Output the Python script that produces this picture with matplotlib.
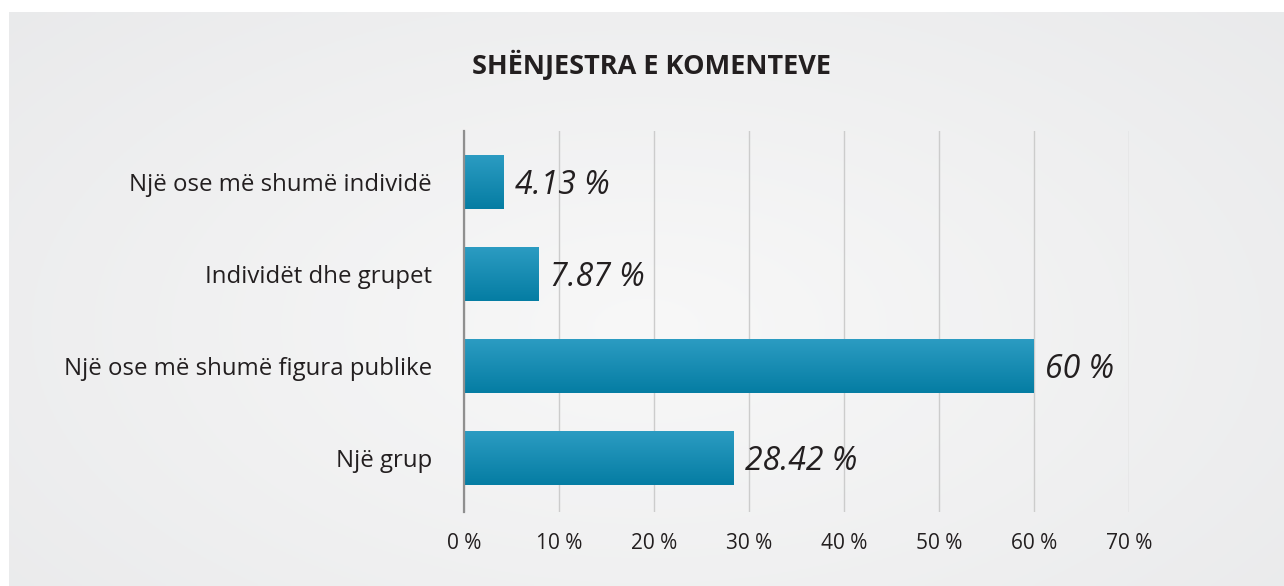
import numpy as np
import matplotlib
matplotlib.use('Agg')
from matplotlib import pyplot as plt

# data
categories = ['Një ose më shumë individë', 'Individët dhe grupet',
              'Një ose më shumë figura publike', 'Një grup']
values = [4.13, 7.87, 60, 28.42]
value_labels = ['4.13 %', '7.87 %', '60 %', '28.42 %']
x_ticks = [0, 10, 20, 30, 40, 50, 60, 70]
x_tick_labels = ['0 %', '10 %', '20 %', '30 %', '40 %', '50 %', '60 %', '70 %']
title = 'SHËNJESTRA E KOMENTEVE'

plt.rcParams['font.family'] = ['Open Sans', 'DejaVu Sans']
text_color = '#231f20'

W, H = 1284, 586
fig = plt.figure(figsize=(W / 100, H / 100), dpi=100)
fig.patch.set_facecolor('white')

# background panel with soft radial gradient
bg = fig.add_axes([9 / W, 0, 1 - 9 / W, 1 - 12 / H])
yy, xx = np.mgrid[0:1:200j, 0:1:400j]
r = np.sqrt(((xx - 0.5) / 0.75) ** 2 + ((yy - 0.45) / 0.9) ** 2)
r = np.clip(r, 0, 1)
c0 = np.array([0.972, 0.972, 0.972])
c1 = np.array([0.91, 0.912, 0.918])
img = c0 + (c1 - c0) * r[..., None]
bg.imshow(img, aspect='auto', extent=[0, 1, 0, 1], origin='lower')
bg.axis('off')

# main axes
left, right = 464 / W, 1129 / W
top, bottom = 1 - 131 / H, 1 - 512 / H
ax = fig.add_axes([left, bottom, right - left, top - bottom])
ax.set_facecolor('none')

ypos = np.arange(len(categories))
bars = ax.barh(ypos, values, height=0.58, color='#128bb3', zorder=3)

# vertical gradient on each bar
grad = np.linspace(0, 1, 64)[:, None]
top_c = np.array([0.17, 0.61, 0.76])
bot_c = np.array([0.02, 0.49, 0.64])
gimg = top_c + (bot_c - top_c) * grad[..., None]
for b in bars:
    x0, y0 = b.get_x(), b.get_y()
    w, h = b.get_width(), b.get_height()
    im = ax.imshow(gimg, aspect='auto', extent=[x0, x0 + w, y0 + h, y0],
                   zorder=4, interpolation='bilinear')
    im.set_clip_path(b)

ax.set_xlim(0, 70)
ax.set_ylim(3.587, -0.555)

ax.set_xticks(x_ticks)
ax.set_xticklabels(x_tick_labels, fontsize=15, color=text_color)
ax.set_yticks(ypos)
ax.set_yticklabels(categories, fontsize=17.3, color=text_color)
ax.tick_params(axis='x', length=0, pad=15)
ax.tick_params(axis='y', length=0, pad=23)

ax.grid(axis='x', color='#cccccc', linewidth=1.0, zorder=1)
for s in ['top', 'right', 'bottom']:
    ax.spines[s].set_visible(False)
ax.spines['left'].set_color('#8f8f8f')
ax.spines['left'].set_linewidth(1.6)
ax.spines['left'].set_zorder(5)

for y, v, lab in zip(ypos, values, value_labels):
    ax.text(v + 1.2, y + 0.04, lab, fontsize=23, style='italic',
            color=text_color, va='center', ha='left', zorder=6)

fig.text(652 / W, 1 - 65 / H, title, fontsize=19.5, fontweight='bold',
         color=text_color, ha='center', va='center')

fig.savefig('out.png', dpi=100)
